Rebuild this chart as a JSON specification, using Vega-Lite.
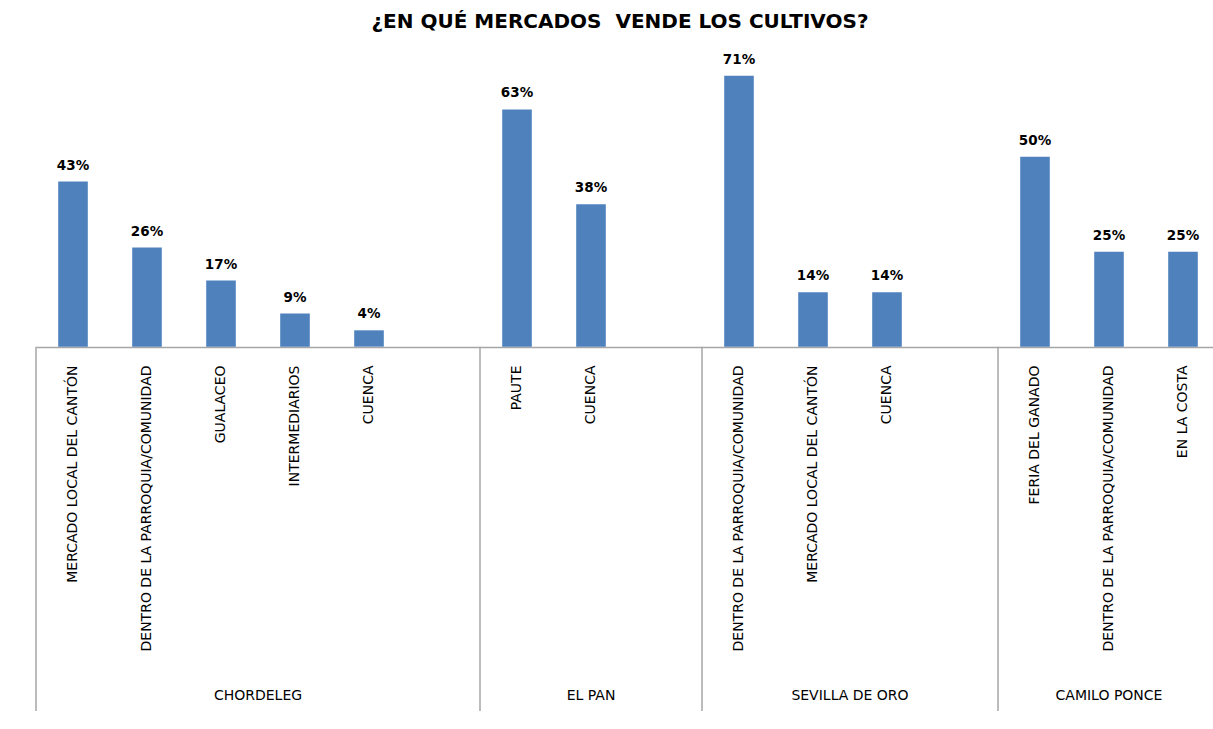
{
  "$schema": "https://vega.github.io/schema/vega-lite/v6.json",
  "autosize": {"type": "none"},
  "width": 1184,
  "height": 668,
  "padding": {"left": 36, "top": 43, "right": 0, "bottom": 0},
  "background": "white",
  "config": {"view": {"stroke": null}},
  "title": {
    "text": "¿EN QUÉ MERCADOS\u00a0 VENDE LOS CULTIVOS?",
    "font": "DejaVu Sans",
    "fontSize": 20,
    "fontWeight": "bold",
    "color": "#000000",
    "anchor": "middle",
    "offset": 11,
    "dx": -8
  },
  "datasets": {
    "bars": [
      {"slot": "01|MERCADO LOCAL DEL CANTÓN", "municipio": "CHORDELEG", "pct": 43.5, "label": "43%"},
      {"slot": "02|DENTRO DE LA PARROQUIA/COMUNIDAD", "municipio": "CHORDELEG", "pct": 26.1, "label": "26%"},
      {"slot": "03|GUALACEO", "municipio": "CHORDELEG", "pct": 17.4, "label": "17%"},
      {"slot": "04|INTERMEDIARIOS", "municipio": "CHORDELEG", "pct": 8.7, "label": "9%"},
      {"slot": "05|CUENCA", "municipio": "CHORDELEG", "pct": 4.3, "label": "4%"},
      {"slot": "07|PAUTE", "municipio": "EL PAN", "pct": 62.5, "label": "63%"},
      {"slot": "08|CUENCA", "municipio": "EL PAN", "pct": 37.5, "label": "38%"},
      {"slot": "10|DENTRO DE LA PARROQUIA/COMUNIDAD", "municipio": "SEVILLA DE ORO", "pct": 71.4, "label": "71%"},
      {"slot": "11|MERCADO LOCAL DEL CANTÓN", "municipio": "SEVILLA DE ORO", "pct": 14.3, "label": "14%"},
      {"slot": "12|CUENCA", "municipio": "SEVILLA DE ORO", "pct": 14.3, "label": "14%"},
      {"slot": "14|FERIA DEL GANADO", "municipio": "CAMILO PONCE", "pct": 50, "label": "50%"},
      {"slot": "15|DENTRO DE LA PARROQUIA/COMUNIDAD", "municipio": "CAMILO PONCE", "pct": 25, "label": "25%"},
      {"slot": "16|EN LA COSTA", "municipio": "CAMILO PONCE", "pct": 25, "label": "25%"}
    ],
    "groups": [
      {"municipio": "CHORDELEG", "first": "01|MERCADO LOCAL DEL CANTÓN", "center": "04|INTERMEDIARIOS", "even": true},
      {"municipio": "EL PAN", "first": "07|PAUTE", "center": "08|CUENCA", "even": false},
      {"municipio": "SEVILLA DE ORO", "first": "10|DENTRO DE LA PARROQUIA/COMUNIDAD", "center": "12|CUENCA", "even": true},
      {"municipio": "CAMILO PONCE", "first": "14|FERIA DEL GANADO", "center": "15|DENTRO DE LA PARROQUIA/COMUNIDAD", "even": false}
    ]
  },
  "layer": [
    {
      "data": {"name": "bars"},
      "mark": {"type": "bar", "width": {"band": 0.4}, "color": "#4f81bd"},
      "encoding": {
        "x": {
          "field": "slot",
          "type": "nominal",
          "sort": null,
          "scale": {
            "domain": [
              "01|MERCADO LOCAL DEL CANTÓN", "02|DENTRO DE LA PARROQUIA/COMUNIDAD", "03|GUALACEO", "04|INTERMEDIARIOS", "05|CUENCA", "06|",
              "07|PAUTE", "08|CUENCA", "09|",
              "10|DENTRO DE LA PARROQUIA/COMUNIDAD", "11|MERCADO LOCAL DEL CANTÓN", "12|CUENCA", "13|",
              "14|FERIA DEL GANADO", "15|DENTRO DE LA PARROQUIA/COMUNIDAD", "16|EN LA COSTA"
            ],
            "paddingInner": 0,
            "paddingOuter": 0
          },
          "axis": {
            "orient": "bottom",
            "offset": -364,
            "title": null,
            "grid": false,
            "ticks": false,
            "labelAngle": -90,
            "labelExpr": "split(datum.label, '|')[1]",
            "labelFont": "DejaVu Sans",
            "labelFontSize": 14,
            "labelColor": "#000000",
            "labelPadding": 18,
            "labelLimit": 400,
            "labelOverlap": false,
            "labelBound": false,
            "domainColor": "#a6a6a6",
            "domainWidth": 1.5
          }
        },
        "y": {
          "field": "pct",
          "type": "quantitative",
          "scale": {"domain": [-96, 80], "nice": false, "zero": false},
          "axis": null
        }
      }
    },
    {
      "data": {"name": "bars"},
      "mark": {"type": "text", "font": "DejaVu Sans", "fontWeight": "bold", "fontSize": 13.5, "baseline": "bottom", "dy": -9, "color": "#000000"},
      "encoding": {
        "x": {"field": "slot", "type": "nominal", "sort": null},
        "y": {"field": "pct", "type": "quantitative"},
        "text": {"field": "label"}
      }
    },
    {
      "data": {"name": "groups"},
      "mark": {"type": "rule", "color": "#a6a6a6", "strokeWidth": 1.5},
      "encoding": {
        "x": {"field": "first", "type": "nominal", "sort": null, "bandPosition": 0},
        "y": {"datum": 0},
        "y2": {"datum": -96}
      }
    },
    {
      "data": {"name": "groups"},
      "transform": [{"filter": "datum.even"}],
      "mark": {"type": "text", "font": "DejaVu Sans", "fontSize": 14, "baseline": "middle", "color": "#000000"},
      "encoding": {
        "x": {"field": "center", "type": "nominal", "sort": null, "bandPosition": 0},
        "y": {"datum": -92},
        "text": {"field": "municipio"}
      }
    },
    {
      "data": {"name": "groups"},
      "transform": [{"filter": "!datum.even"}],
      "mark": {"type": "text", "font": "DejaVu Sans", "fontSize": 14, "baseline": "middle", "color": "#000000"},
      "encoding": {
        "x": {"field": "center", "type": "nominal", "sort": null, "bandPosition": 0.5},
        "y": {"datum": -92},
        "text": {"field": "municipio"}
      }
    }
  ]
}
